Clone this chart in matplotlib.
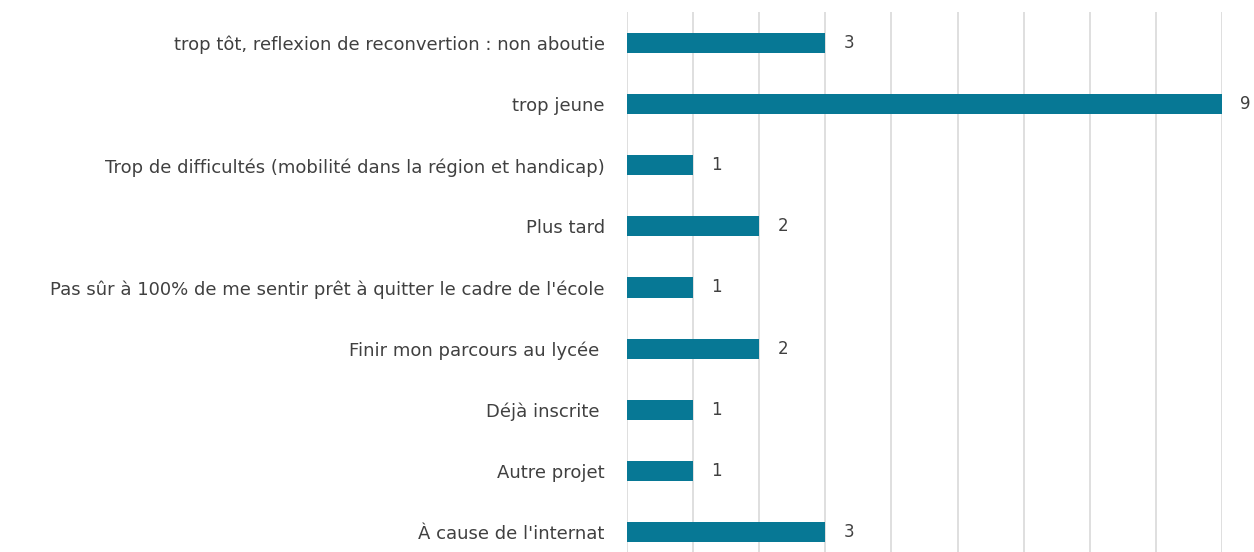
import matplotlib
matplotlib.use("Agg")
import matplotlib.pyplot as plt

categories = [
    "À cause de l'internat",
    "Autre projet",
    "Déjà inscrite ",
    "Finir mon parcours au lycée ",
    "Pas sûr à 100% de me sentir prêt à quitter le cadre de l'école",
    "Plus tard",
    "Trop de difficultés (mobilité dans la région et handicap)",
    "trop jeune",
    "trop tôt, reflexion de reconvertion : non aboutie",
]
values = [3, 1, 1, 2, 1, 2, 1, 9, 3]

plt.rcParams['font.family'] = ['DejaVu Sans']

W, H = 1254, 552
fig = plt.figure(figsize=(W / 100, H / 100), dpi=100)
ax = fig.add_axes([627 / W, 0, (1222 - 627) / W, (552 - 12) / H])

pos = list(range(len(categories)))
ax.barh(pos, values, height=0.33, color='#077895', zorder=3)
for p, v in zip(pos, values):
    ax.annotate(str(v), xy=(v, p), xytext=(13, 0), textcoords='offset points',
                va='center', ha='left', fontsize=12, color='#404040')

ax.set_xlim(0, 9)
ax.set_ylim(-0.33, 8.51)
ax.set_yticks(pos)
ax.set_yticklabels(categories, fontsize=13, color='#404040')
ax.set_xticks(range(0, 10))
ax.set_xticklabels([])
ax.tick_params(axis='both', length=0)
ax.tick_params(axis='y', pad=16)
ax.grid(axis='x', color='#d9d9d9', linewidth=1.2, zorder=0)
for s in ax.spines.values():
    s.set_visible(False)

fig.savefig('out.png', dpi=100)
